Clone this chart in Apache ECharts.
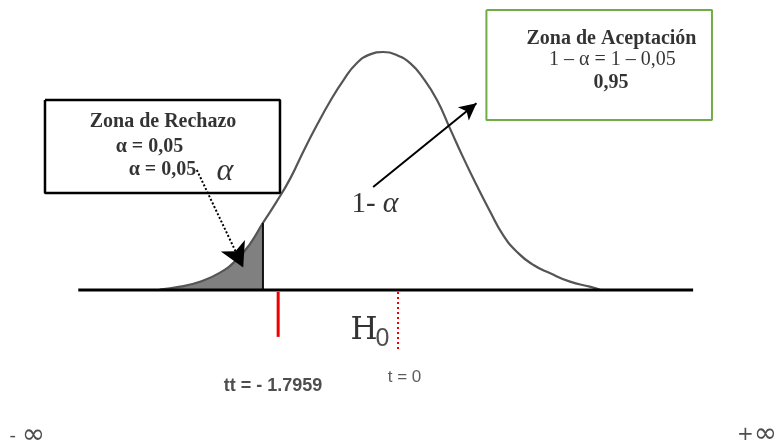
<!DOCTYPE html>
<html>
<head>
<meta charset="utf-8">
<script src="https://cdn.jsdelivr.net/npm/echarts@6/dist/echarts.min.js"></script>
<style>
  html, body { margin: 0; padding: 0; background: #fff; }
  #chart { width: 777px; height: 442px; }
</style>
</head>
<body>
<div id="chart"></div>
<script>
// curva normal: z = desviaciones, h = altura relativa (pico = 1)
const curvaZ = [-2.90, -2.63, -2.37, -2.11, -1.89, -1.71, -1.54, -1.36, -1.18, -1.01, -0.83, -0.66, -0.48, -0.31, -0.13, 0.04, 0.22, 0.40, 0.57, 0.75, 0.92, 1.10, 1.27, 1.45, 1.62, 1.80, 2.02, 2.24, 2.50, 2.76, 2.85, 2.90]
const curvaH = [0.002, 0.014, 0.035, 0.072, 0.126, 0.194, 0.282, 0.371, 0.469, 0.581, 0.693, 0.791, 0.882, 0.952, 0.990, 1.000, 0.987, 0.952, 0.889, 0.798, 0.679, 0.553, 0.441, 0.329, 0.231, 0.161, 0.105, 0.070, 0.035, 0.014, 0.006, 0]
const nRechazo = 7          // puntos de la cola izquierda (hasta el valor critico)
const ejeZ = [-3.97, 4.12]  // linea base
const tCritico = [-1.34, -0.008, -0.197]  // z, h inicio, h fin (linea roja)
const tCero = [0.237, -0.008, -0.252]

// cajas [z1, z2, h1, h2]
const cajaRechazo = [-4.408, -1.316, 0.798, 0.408]
const cajaAceptacion = [1.40, 4.368, 1.176, 0.714]

// flechas [z1, h1, z2, h2]
const flechaAlfa = [-2.41, 0.504, -1.80, 0.095]
const flechaUnoMenos = [-0.09, 0.433, 1.27, 0.785]

// textos
const textos = ['Zona de Rechazo', 'α = 0,05', 'α = 0,05', 'α', '1- {i|α}',
  'Zona de Aceptación', '1 – α = 1 – 0,05', '0,95', 'H', '0', 't = 0', 'tt = - 1.7959', '- {b|∞}', '+{b|∞}']
const textoZ = [-2.855, -3.033, -2.862, -2.04, -0.066, 3.046, 3.059, 3.04, -0.21, 0.033, 0.322, -1.408, -4.64, 4.96]
const textoH = [0.707, 0.602, 0.504, 0.496, 0.361, 1.057, 0.966, 0.872, -0.174, -0.206, -0.368, -0.403, -0.613, -0.609]

const serif = 'Liberation Serif'
const sans = 'Liberation Sans'
const infinito = { b: { fontFamily: 'DejaVu Sans', fontSize: 28, color: '#222' } }
const estilos = [
  { fontFamily: serif, fontWeight: 'bold', fontSize: 20 },
  { fontFamily: serif, fontWeight: 'bold', fontSize: 20 },
  { fontFamily: serif, fontWeight: 'bold', fontSize: 20 },
  { fontFamily: serif, fontStyle: 'italic', fontSize: 32 },
  { fontFamily: serif, fontSize: 29, rich: { i: { fontFamily: serif, fontStyle: 'italic', fontSize: 30, color: '#000' } } },
  { fontFamily: serif, fontWeight: 'bold', fontSize: 20 },
  { fontFamily: serif, fontSize: 20 },
  { fontFamily: serif, fontWeight: 'bold', fontSize: 20 },
  { fontFamily: 'DejaVu Serif', fontSize: 31 },
  { fontFamily: sans, fontSize: 25, color: '#222' },
  { fontFamily: sans, fontSize: 17, color: '#333' },
  { fontFamily: sans, fontWeight: 'bold', fontSize: 18, color: '#222' },
  { fontFamily: 'DejaVu Sans', fontSize: 18, color: '#222', rich: infinito },
  { fontFamily: 'DejaVu Sans', fontSize: 20, color: '#222', rich: infinito }
]

const curva = curvaZ.map((z, i) => [z, curvaH[i]])
const rechazo = curva.slice(0, nRechazo)

const caja = (c) => [[c[0], c[2]], [c[1], c[2]], [c[1], c[3]], [c[0], c[3]], [c[0], c[2]]]
const flecha = (f) => [{ coord: [f[0], f[1]] }, { coord: [f[2], f[3]] }]

const linea = (data, color, width, type) => ({
  type: 'line',
  data,
  symbol: 'none',
  silent: true,
  lineStyle: { color, width, type: type || 'solid' }
})

const conFlecha = (f, size, type) => ({
  ...linea([], '#000', 2),
  markLine: {
    silent: true,
    label: { show: false },
    emphasis: { disabled: true },
    data: [flecha(f)],
    symbol: ['none', 'arrow'],
    symbolSize: size,
    lineStyle: { color: '#000', width: 2, type }
  }
})

const chart = echarts.init(document.getElementById('chart'))
chart.setOption({
  animation: false,
  backgroundColor: '#fff',
  grid: { left: 0, right: 0, top: 0, bottom: 0 },
  xAxis: { type: 'value', min: -5, max: 5.2237, show: false },
  yAxis: { type: 'value', min: -0.6387, max: 1.2185, show: false },
  series: [
    {
      type: 'line',
      data: rechazo,
      symbol: 'none',
      smooth: 0.5,
      silent: true,
      lineStyle: { color: '#bbb', width: 1 },
      areaStyle: { color: '#808080', opacity: 1 }
    },
    {
      type: 'line',
      data: curva,
      symbol: 'none',
      smooth: 0.5,
      silent: true,
      lineStyle: { color: '#555', width: 2.2 }
    },
    linea([[curvaZ[nRechazo - 1], 0], [curvaZ[nRechazo - 1], curvaH[nRechazo - 1]]], '#111', 2),
    linea([[ejeZ[0], 0], [ejeZ[1], 0]], '#000', 3),
    conFlecha(flechaAlfa, [20, 24], 'dotted'),
    conFlecha(flechaUnoMenos, [13, 17], 'solid'),
    linea([[tCritico[0], tCritico[1]], [tCritico[0], tCritico[2]]], '#ee0000', 3),
    linea([[tCero[0], tCero[1]], [tCero[0], tCero[2]]], '#ee0000', 2, [2, 3]),
    linea(caja(cajaRechazo), '#000', 2.5),
    linea(caja(cajaAceptacion), '#70ad47', 2),
    {
      type: 'scatter',
      silent: true,
      symbolSize: 1,
      itemStyle: { color: 'rgba(0,0,0,0)' },
      data: textos.map((t, i) => ({
        value: [textoZ[i], textoH[i]],
        label: Object.assign({
          show: true,
          position: 'inside',
          align: 'center',
          verticalAlign: 'middle',
          color: '#000',
          formatter: t
        }, estilos[i])
      }))
    }
  ]
})
</script>
</body>
</html>
